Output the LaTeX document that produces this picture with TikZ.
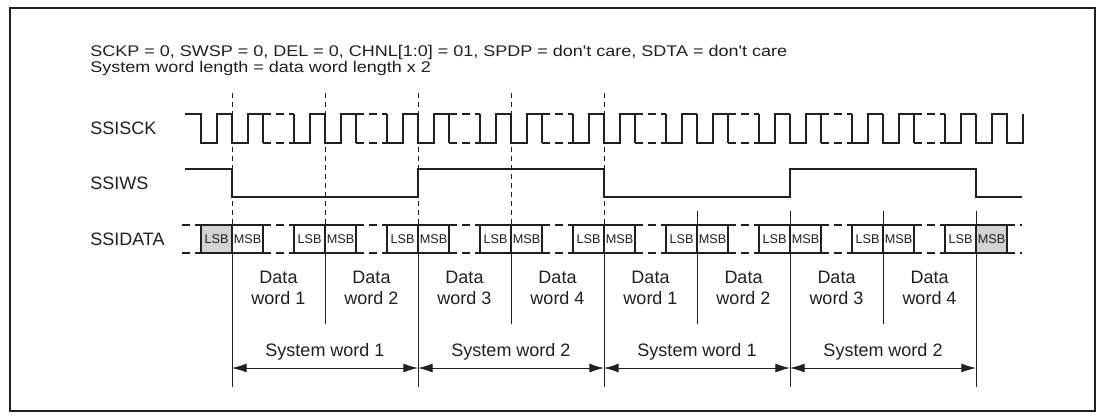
\documentclass[tikz,border=0pt]{standalone}
\usepackage{fontspec}
\setmainfont{Liberation Sans}
\usetikzlibrary{arrows.meta,positioning,calc}
\definecolor{ink}{HTML}{231F20}
\definecolor{bitgray}{HTML}{D3D3D3}
\newcommand{\hdrtext}[1]{\scalebox{1}[0.86]{#1}}
\tikzset{
    every picture/.style={line join=miter},
    wave/.style={draw=ink,line width=1.5pt},
    wavedash/.style={draw=ink,line width=1.2pt,dash pattern=on 6pt off 3.75pt},
    guide/.style={draw=ink,line width=0.75pt,dash pattern=on 3.75pt off 3pt},
    divider/.style={draw=ink,line width=0.75pt},
    bitcell/.style={draw=ink,fill=white,line width=1.5pt,minimum width=23.25pt,
      minimum height=21pt,inner sep=0pt,outer sep=0pt,text=ink,
      font=\fontsize{9.5}{11}\selectfont},
    lastbit/.style={fill=bitgray},
    siglabel/.style={anchor=west,inner sep=0pt,text=ink,
      font=\fontsize{13.5}{16}\selectfont},
    wordlabel/.style={align=center,inner sep=0pt,text=ink,
      font=\fontsize{13.5}{15.75}\selectfont},
    spanarrow/.style={{Latex[length=11pt,width=6.75pt]}-{Latex[length=11pt,width=6.75pt]},
      draw=ink,line width=0.75pt}
}

\begin{document}
\begin{tikzpicture}[x=0.75pt,y=-0.75pt]
  \useasboundingbox (0,0) rectangle (1105,419);
  \draw[ink,line width=1.5pt] (10,8) rectangle (1095,411);
  % header and signal names
  \node[siglabel] (cfg) at (90,52) {\hdrtext{SCKP = 0, SWSP = 0, DEL = 0, CHNL[1:0] = 01, SPDP = don\textquotesingle t care, SDTA = don\textquotesingle t care}};
  \node[siglabel] (len) at (90,68) {\hdrtext{System word length = data word length x 2}};
  \node[siglabel] (sck) at (90,128) {SSISCK};
  \node[siglabel] (ws) at (90,183) {SSIWS};
  \node[siglabel] (dat) at (90,239) {SSIDATA};
  % word boundaries
  \foreach \k in {0,...,4}
    \draw[guide] (232+93*\k,93) -- (232+93*\k,225);
  \foreach \k in {5,...,8}
    \draw[divider] (232+93*\k,211) -- (232+93*\k,225);
  \foreach \k in {0,2,...,8}
    \draw[divider] (232+93*\k,253) -- (232+93*\k,387);
  \foreach \k in {1,3,...,7}
    \draw[divider] (232+93*\k,253) -- (232+93*\k,324);
  % SSISCK
  \draw[wave] (185,114) -- (201,114) -- (201,143) -- (216.5,143) -- (216.5,114) -- (232,114);
  \foreach \k in {0,...,7}{
    \pgfmathsetmacro{\b}{232+93*\k}
    \draw[wave] (\b,114) -- (\b,143) -- (\b+15.5,143) -- (\b+15.5,114) -- (\b+31,114) -- (\b+31,143);
    \draw[wavedash] (\b+31,114) -- (\b+62,114) (\b+31,143) -- (\b+62,143);
    \draw[wave] (\b+62,114) -- (\b+62,143) -- (\b+77.5,143) -- (\b+77.5,114) -- (\b+93,114);}
  \draw[wave] (976,114) -- (976,143) -- (991.5,143) -- (991.5,114) -- (1007,114) -- (1007,143)
    -- (1022.5,143) -- (1022.5,114);
  % SSIWS
  \draw[wave] (185,169) -- (232,169) -- (232,197) -- (418,197) -- (418,169) -- (604,169)
    -- (604,197) -- (790,197) -- (790,169) -- (976,169) -- (976,197) -- (1022,197);
  % SSIDATA
  \coordinate (din) at (182,239);
  \coordinate (dout) at (1022,239);
  \node[bitcell,lastbit] (lsbin) at (216.5,239) {LSB};
  \node[bitcell,lastbit] (msbout) at (991.5,239) {MSB};
  \draw[wavedash] (din|-lsbin.north) -- (lsbin.north west) (din|-lsbin.south) -- (lsbin.south west);
  \draw[wavedash] (msbout.north east) -- (dout|-msbout.north) (msbout.south east) -- (dout|-msbout.south);
  \foreach \k in {0,...,7}{
    \pgfmathsetmacro{\b}{232+93*\k}
    \pgfmathtruncatemacro{\n}{mod(\k,4)+1}
    \node[bitcell] (msb\k) at (\b+15.5,239) {MSB};
    \node[bitcell] (lsb\k) at (\b+77.5,239) {LSB};
    \draw[wavedash] (msb\k.north east) -- (lsb\k.north west) (msb\k.south east) -- (lsb\k.south west);
    \node[wordlabel] (dw\k) at (\b+46.5,287.5) {Data\\word \n};}
  % system words
  \foreach \i in {0,...,4}
    \coordinate (sw\i) at (232+186*\i,368);
  \foreach \i [evaluate=\i as \j using int(\i+1)] in {0,...,3}{
    \pgfmathtruncatemacro{\n}{mod(\i,2)+1}
    \draw[spanarrow] (sw\i) -- (sw\j);
    \node[wordlabel] (swl\i) at ($(sw\i)!0.5!(sw\j)+(0,-16)$) {System word \n};}
\end{tikzpicture}
\end{document}
